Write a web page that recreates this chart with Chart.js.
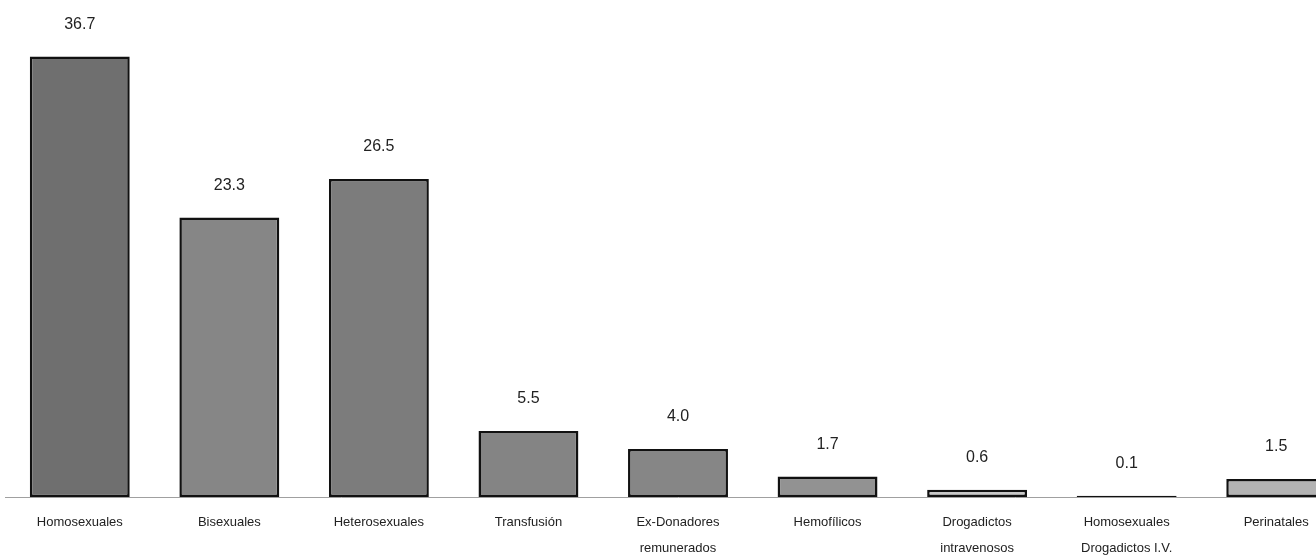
<!DOCTYPE html>
<html>
<head>
<meta charset="utf-8">
<script src="https://cdn.jsdelivr.net/npm/chart.js@4/dist/chart.umd.min.js"></script>
<style>
  html, body { margin: 0; padding: 0; background: #fff; overflow: hidden; }
  #wrap { width: 1351px; height: 555px; position: relative; }
</style>
</head>
<body>
<div id="wrap"><canvas id="c"></canvas></div>
<script>
const categories = [
  "Homosexuales",
  "Bisexuales",
  "Heterosexuales",
  "Transfusión",
  ["Ex-Donadores", "remunerados"],
  "Hemofílicos",
  ["Drogadictos", "intravenosos"],
  ["Homosexuales", "Drogadictos I.V."],
  "Perinatales"
];
const values = [36.7, 23.3, 26.5, 5.5, 4.0, 1.7, 0.6, 0.1, 1.5];
const valueLabels = ["36.7", "23.3", "26.5", "5.5", "4.0", "1.7", "0.6", "0.1", "1.5"];

const barColors = ["#6f6f6f", "#868686", "#7c7c7c", "#848484", "#868686", "#929292", "#c8c8c8", "#2e2e2e", "#b3b3b3"];

const valueLabelPlugin = {
  id: 'valueLabels',
  afterDatasetsDraw(chart) {
    const ctx = chart.ctx;
    const meta = chart.getDatasetMeta(0);
    ctx.save();
    ctx.font = '16px "Liberation Sans", Arial, sans-serif';
    ctx.fillStyle = '#222';
    ctx.textAlign = 'center';
    ctx.textBaseline = 'middle';
    meta.data.forEach((bar, i) => {
      ctx.fillText(valueLabels[i], bar.x, bar.y - 32);
    });
    ctx.restore();
  }
};

new Chart(document.getElementById('c'), {
  type: 'bar',
  data: {
    labels: categories,
    datasets: [{
      data: values,
      backgroundColor: barColors,
      borderColor: '#111',
      borderWidth: 2.5,
      borderSkipped: false,
      barPercentage: 0.668,
      categoryPercentage: 1.0
    }]
  },
  options: {
    responsive: true,
    maintainAspectRatio: false,
    animation: false,
    layout: { padding: { left: 5, right: 0, top: 17, bottom: 0 } },
    plugins: {
      legend: { display: false },
      tooltip: { enabled: false }
    },
    scales: {
      x: {
        grid: { display: false, drawTicks: false },
        border: { display: true, color: '#a0a0a0', width: 1 },
        ticks: {
          autoSkip: false,
          maxRotation: 0,
          minRotation: 0,
          padding: 12,
          color: '#222',
          font: { family: '"Liberation Sans Narrow", "Liberation Sans", Arial, sans-serif', size: 13, lineHeight: 2.0 }
        },
        afterFit(scale) { scale.height = 58; }
      },
      y: {
        display: false,
        min: 0,
        max: 40
      }
    }
  },
  plugins: [valueLabelPlugin]
});
</script>
</body>
</html>
